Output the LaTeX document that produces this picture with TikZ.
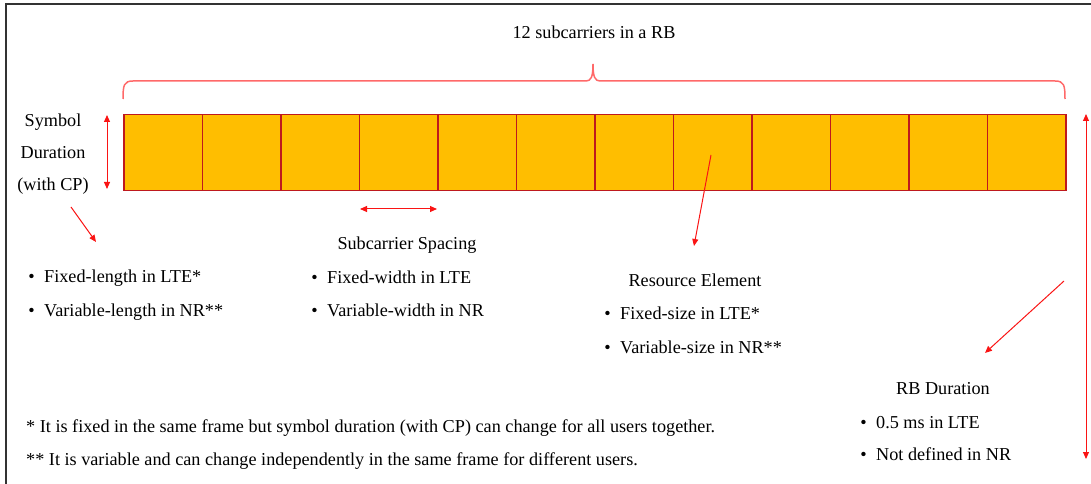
\documentclass[tikz,border=0pt]{standalone}
\usepackage{fontspec}
\setmainfont{Liberation Serif}
\usetikzlibrary{arrows.meta}
\definecolor{cellfill}{RGB}{255,190,0}
\definecolor{celledge}{RGB}{190,25,30}
\definecolor{bracered}{RGB}{255,105,105}
\definecolor{arrowred}{RGB}{250,20,20}
\newcommand\bulletline[1]{\llap{\textbullet\hspace{9.5bp}}#1}
\begin{document}
\begin{tikzpicture}[x=1bp,y=-1bp,
  label/.style={font=\fontsize{18.2bp}{22bp}\selectfont, inner sep=0pt, anchor=base},
  itemtext/.style={label, anchor=base west},
  cell/.style={draw=celledge, line width=1.5bp, fill=cellfill, minimum width=78.5bp,
               minimum height=76bp, inner sep=0pt, anchor=north west},
  pointer/.style={draw=arrowred, line width=1bp, -{Triangle[length=7bp,width=6bp]}},
  span/.style={draw=arrowred, line width=1bp, {Triangle[length=7bp,width=6bp]}-{Triangle[length=7bp,width=6bp]}}]
  \useasboundingbox (0,0) rectangle (1091,484);
  % frame edges
  \draw[line width=1.3bp, black!80] (6,484) -- (6,4) -- (1091,4);

  % resource block: 12 subcarrier cells
  \foreach \i in {1,...,12} {
    \node[cell] (c\i) at ({123+(\i-1)*78.5},114) {};
  }

  % brace over the resource block
  \draw[bracered, line width=1.5bp]
    (123,99) .. controls (123,85) and (124,81) .. (133,81) -- (586,81)
    .. controls (591,81) and (593,77) .. (593,64)
    .. controls (593,77) and (595,81) .. (600,81) -- (1055,81)
    .. controls (1064,81) and (1065,85) .. (1065,99);
  \node[label] (rbtitle) at (594,38.5) {12 subcarriers in a RB};

  % symbol duration
  \node[label] (sym1) at (53,126.5) {Symbol};
  \node[label] (sym2) at (53,158.5) {Duration};
  \node[label] (sym3) at (53,190.5) {(with CP)};
  \coordinate (symTop) at (107,115);
  \coordinate (symBot) at (107,189);
  \draw[span] (symTop) -- (symBot);
  \coordinate (symS) at (71,207);
  \coordinate (symE) at (96,242);
  \draw[pointer] (symS) -- (symE);
  \node[itemtext] (symA) at (44,282.5) {\bulletline{Fixed-length in LTE*}};
  \node[itemtext] (symB) at (44,316.5) {\bulletline{Variable-length in NR**}};

  % subcarrier spacing
  \coordinate (scsL) at (360,209);
  \coordinate (scsR) at (437,209);
  \draw[span] (scsL) -- (scsR);
  \node[label] (scs) at (407,249.5) {Subcarrier Spacing};
  \node[itemtext] (scsA) at (327,283.5) {\bulletline{Fixed-width in LTE}};
  \node[itemtext] (scsB) at (327,316.5) {\bulletline{Variable-width in NR}};

  % resource element
  \coordinate (reS) at (711,155);
  \coordinate (reE) at (694,246);
  \draw[pointer] (reS) -- (reE);
  \node[label] (re) at (695,287) {Resource Element};
  \node[itemtext] (reA) at (620,319.5) {\bulletline{Fixed-size in LTE*}};
  \node[itemtext] (reB) at (620,353.5) {\bulletline{Variable-size in NR**}};

  % RB duration
  \coordinate (rbTop) at (1086,114);
  \coordinate (rbBot) at (1086,459);
  \draw[span] (rbTop) -- (rbBot);
  \coordinate (rbS) at (1064,281);
  \coordinate (rbE) at (985,353);
  \draw[pointer] (rbS) -- (rbE);
  \node[label] (rbd) at (943,394) {RB Duration};
  \node[itemtext] (rbA) at (876,428) {\bulletline{0.5 ms in LTE}};
  \node[itemtext] (rbB) at (876,460) {\bulletline{Not defined in NR}};

  % footnotes
  \node[itemtext] (fn1) at (26,432) {* It is fixed in the same frame but symbol duration (with CP) can change for all users together.};
  \node[itemtext] (fn2) at (26,465.5) {** It is variable and can change independently in the same frame for different users.};
\end{tikzpicture}
\end{document}
